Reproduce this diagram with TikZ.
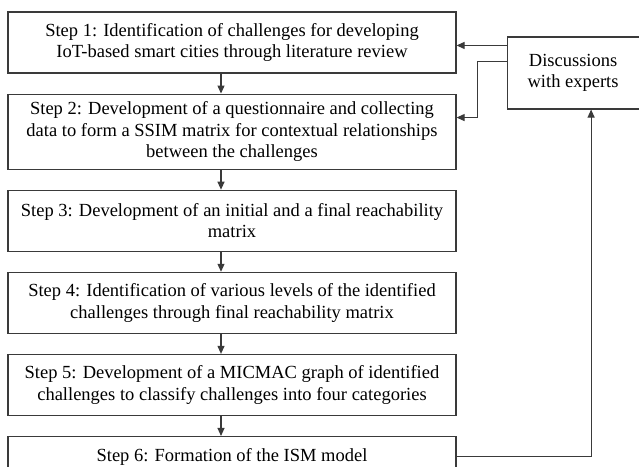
\documentclass[tikz,border=0pt]{standalone}
\usepackage{fontspec}
\setmainfont{Liberation Serif}
\usepackage{xcolor}
\usepackage{tikz}
\usetikzlibrary{positioning,arrows.meta}
\definecolor{tline}{HTML}{3A3A3A}

\begin{document}
\begin{tikzpicture}[x=1pt, y=1pt, font=\fontsize{18.5pt}{21.5pt}\selectfont, node distance=20pt,
  stepbox/.style={draw=tline, line width=1.1pt, minimum width=448pt, minimum height=61pt, inner ysep=7.5pt, align=center},
  arr/.style={-{Triangle[length=8pt, width=7pt]}, draw=tline, line width=1.1pt}]
\useasboundingbox (0,0) rectangle (639,-466);
\node[stepbox] (s1) at (232,-42.5) {Step 1: Identification of challenges for developing\\IoT-based smart cities through literature review};
\node[stepbox, below=of s1] (s2) {Step 2: Development of a questionnaire and collecting\\data to form a SSIM matrix for contextual relationships\\between the challenges};
\node[stepbox, below=of s2] (s3) {Step 3: Development of an initial and a final reachability\\matrix};
\node[stepbox, below=of s3] (s4) {Step 4: Identification of various levels of the identified\\challenges through final reachability matrix};
\node[stepbox, below=of s4] (s5) {Step 5: Development of a MICMAC graph of identified\\challenges to classify challenges into four categories};
\node[stepbox, minimum height=40pt, below=of s5] (s6) {Step 6: Formation of the ISM model};
\node[draw=tline, line width=1.1pt, minimum width=132pt, minimum height=72pt, align=center, anchor=north west] (disc) at ([xshift=50pt, yshift=-25pt]s1.north east) {Discussions\\with experts};
\draw[arr] ([xshift=-11pt]s1.south)--([xshift=-11pt]s2.north); \draw[arr] ([xshift=-11pt]s2.south)--([xshift=-11pt]s3.north); \draw[arr] ([xshift=-11pt]s3.south)--([xshift=-11pt]s4.north);
\draw[arr] ([xshift=-11pt]s4.south)--([xshift=-11pt]s5.north); \draw[arr] ([xshift=-11pt]s5.south)--([xshift=-11pt]s6.north);
\draw[arr] ([yshift=-9pt]disc.north west) -- ([yshift=-9pt]disc.north west -| s1.east);
\draw[arr] ([yshift=-25pt]disc.north west) -- ++(-29,0) |- ([yshift=-24pt]s2.north east);
\draw[arr] (s6.east) -| ([xshift=18pt]disc.south);
\end{tikzpicture}
\end{document}
